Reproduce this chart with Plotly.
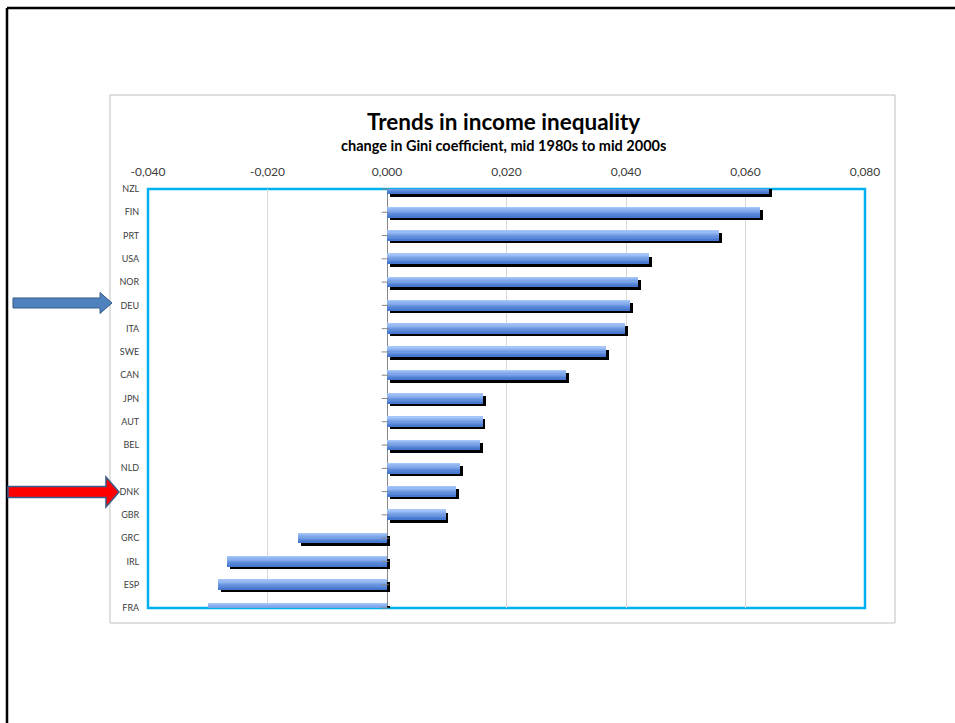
import plotly.graph_objects as go

# ---- data ----
countries = ["NZL", "FIN", "PRT", "USA", "NOR", "DEU", "ITA", "SWE", "CAN", "JPN",
             "AUT", "BEL", "NLD", "DNK", "GBR", "GRC", "IRL", "ESP", "FRA"]
gini_change = [0.0639, 0.0624, 0.0556, 0.0439, 0.0420, 0.0407, 0.0399, 0.0367, 0.0300, 0.0161,
               0.0160, 0.0156, 0.0123, 0.0116, 0.0098, -0.0149, -0.0268, -0.0283, -0.0300]
x_ticks = [-0.04, -0.02, 0.0, 0.02, 0.04, 0.06, 0.08]
x_tick_labels = [("%.3f" % v).replace(".", ",") for v in x_ticks]

title_text = "Trends in income inequality"
subtitle_text = "change in Gini coefficient, mid 1980s to mid 2000s"

# ---- geometry (pixels) ----
W, H = 955, 723
PL, PR, PT, PB = 148, 865, 189, 608
pw, ph = PR - PL, PB - PT


def px(x):
    return (x - PL) / pw


def py(y):
    return (PB - y) / ph


bar_w = 0.43
cat_px = ph / (len(countries) - 1)
shadow_dx = 0.04 / 239.5 * 2.7     # ~2.7 px in data units
shadow_dy = 2.7 / cat_px           # ~2.7 px in category units

fig = go.Figure()

# shadow
fig.add_trace(go.Bar(
    y=countries, x=gini_change, base=shadow_dx, orientation="h",
    width=bar_w, offset=-bar_w / 2 + shadow_dy,
    marker=dict(color="#000000", line=dict(width=0)),
    hoverinfo="skip", showlegend=False,
))

# gradient stripes (light at top, dark at bottom)
top_c = (166, 198, 250)
bot_c = (70, 120, 208)
n = 8
for i in range(n):
    t = i / (n - 1)
    c = tuple(round(top_c[k] + (bot_c[k] - top_c[k]) * t) for k in range(3))
    fig.add_trace(go.Bar(
        y=countries, x=gini_change, orientation="h",
        width=bar_w / n + 0.004, offset=-bar_w / 2 + i * bar_w / n,
        marker=dict(color="rgb(%d,%d,%d)" % c, line=dict(width=0)),
        hoverinfo="skip" if i else None, showlegend=False,
    ))

# tick marks on the zero axis
fig.add_trace(go.Scatter(
    y=countries, x=[-0.0003] * len(countries), mode="markers",
    marker=dict(symbol="line-ew", size=5, line=dict(width=1, color="#868686")),
    hoverinfo="skip", showlegend=False, cliponaxis=False,
))

shapes = []
# slide border (top & left)
shapes.append(dict(type="line", xref="paper", yref="paper",
                   x0=px(7), x1=px(970), y0=py(8), y1=py(8),
                   line=dict(color="black", width=2.5), layer="above"))
shapes.append(dict(type="line", xref="paper", yref="paper",
                   x0=px(7), x1=px(7), y0=py(8), y1=py(740),
                   line=dict(color="black", width=2.5), layer="above"))
# chart area border
shapes.append(dict(type="rect", xref="paper", yref="paper",
                   x0=px(110), x1=px(895), y0=py(95), y1=py(623),
                   line=dict(color="#bfbfbf", width=1), layer="below"))
# plot area border (cyan)
shapes.append(dict(type="rect", xref="paper", yref="paper",
                   x0=0, x1=1, y0=0, y1=1,
                   line=dict(color="#00b0f0", width=2.5), layer="below"))


def arrow_path(x0, xb, xt, yc, body_h, head_h):
    pts = [(x0, yc - body_h / 2), (xb, yc - body_h / 2), (xb, yc - head_h / 2),
           (xt, yc), (xb, yc + head_h / 2), (xb, yc + body_h / 2), (x0, yc + body_h / 2)]
    return "M " + " L ".join("%.4f,%.4f" % (px(a), py(b)) for a, b in pts) + " Z"


shapes.append(dict(type="path", xref="paper", yref="paper",
                   path=arrow_path(13, 100, 112, 303, 10, 21),
                   fillcolor="#4f81bd", line=dict(color="#385d8a", width=1), layer="above"))
shapes.append(dict(type="path", xref="paper", yref="paper",
                   path=arrow_path(8, 106, 119, 492, 11, 30),
                   fillcolor="#ff0000", line=dict(color="#385d8a", width=1.5), layer="above"))

annotations = [
    dict(text="<b>%s</b>" % title_text, xref="paper", yref="paper",
         x=px(503), y=py(122), showarrow=False, xanchor="center", yanchor="middle",
         font=dict(size=22.5, color="#000000", family="Lato")),
    dict(text="<b>%s</b>" % subtitle_text, xref="paper", yref="paper",
         x=px(503), y=py(145), showarrow=False, xanchor="center", yanchor="middle",
         font=dict(size=14.5, color="#000000", family="Lato")),
]

fig.update_layout(
    width=W, height=H,
    margin=dict(l=PL, r=W - PR, t=PT, b=H - PB, pad=0),
    paper_bgcolor="white", plot_bgcolor="white",
    bargap=0, barmode="overlay",
    shapes=shapes, annotations=annotations,
    font=dict(family="Lato", color="#595959"),
    xaxis=dict(side="top", range=[-0.04, 0.08], tickvals=x_ticks, ticktext=x_tick_labels,
               showgrid=True, gridcolor="#d9d9d9", gridwidth=1,
               zeroline=True, zerolinecolor="#868686", zerolinewidth=1,
               ticks="outside", ticklen=7, tickcolor="rgba(0,0,0,0)",
               tickfont=dict(size=12, color="#404040"), showline=False, fixedrange=True),
    yaxis=dict(type="category", categoryorder="array", categoryarray=countries,
               range=[len(countries) - 1, 0], showgrid=False, zeroline=False,
               ticks="outside", ticklen=6, tickcolor="rgba(0,0,0,0)",
               tickfont=dict(size=9, color="#404040"), showline=False, fixedrange=True),
)

fig.write_html("out.html", config={"displayModeBar": False},
               post_script="document.body.style.margin='0';document.body.style.overflow='hidden';")
